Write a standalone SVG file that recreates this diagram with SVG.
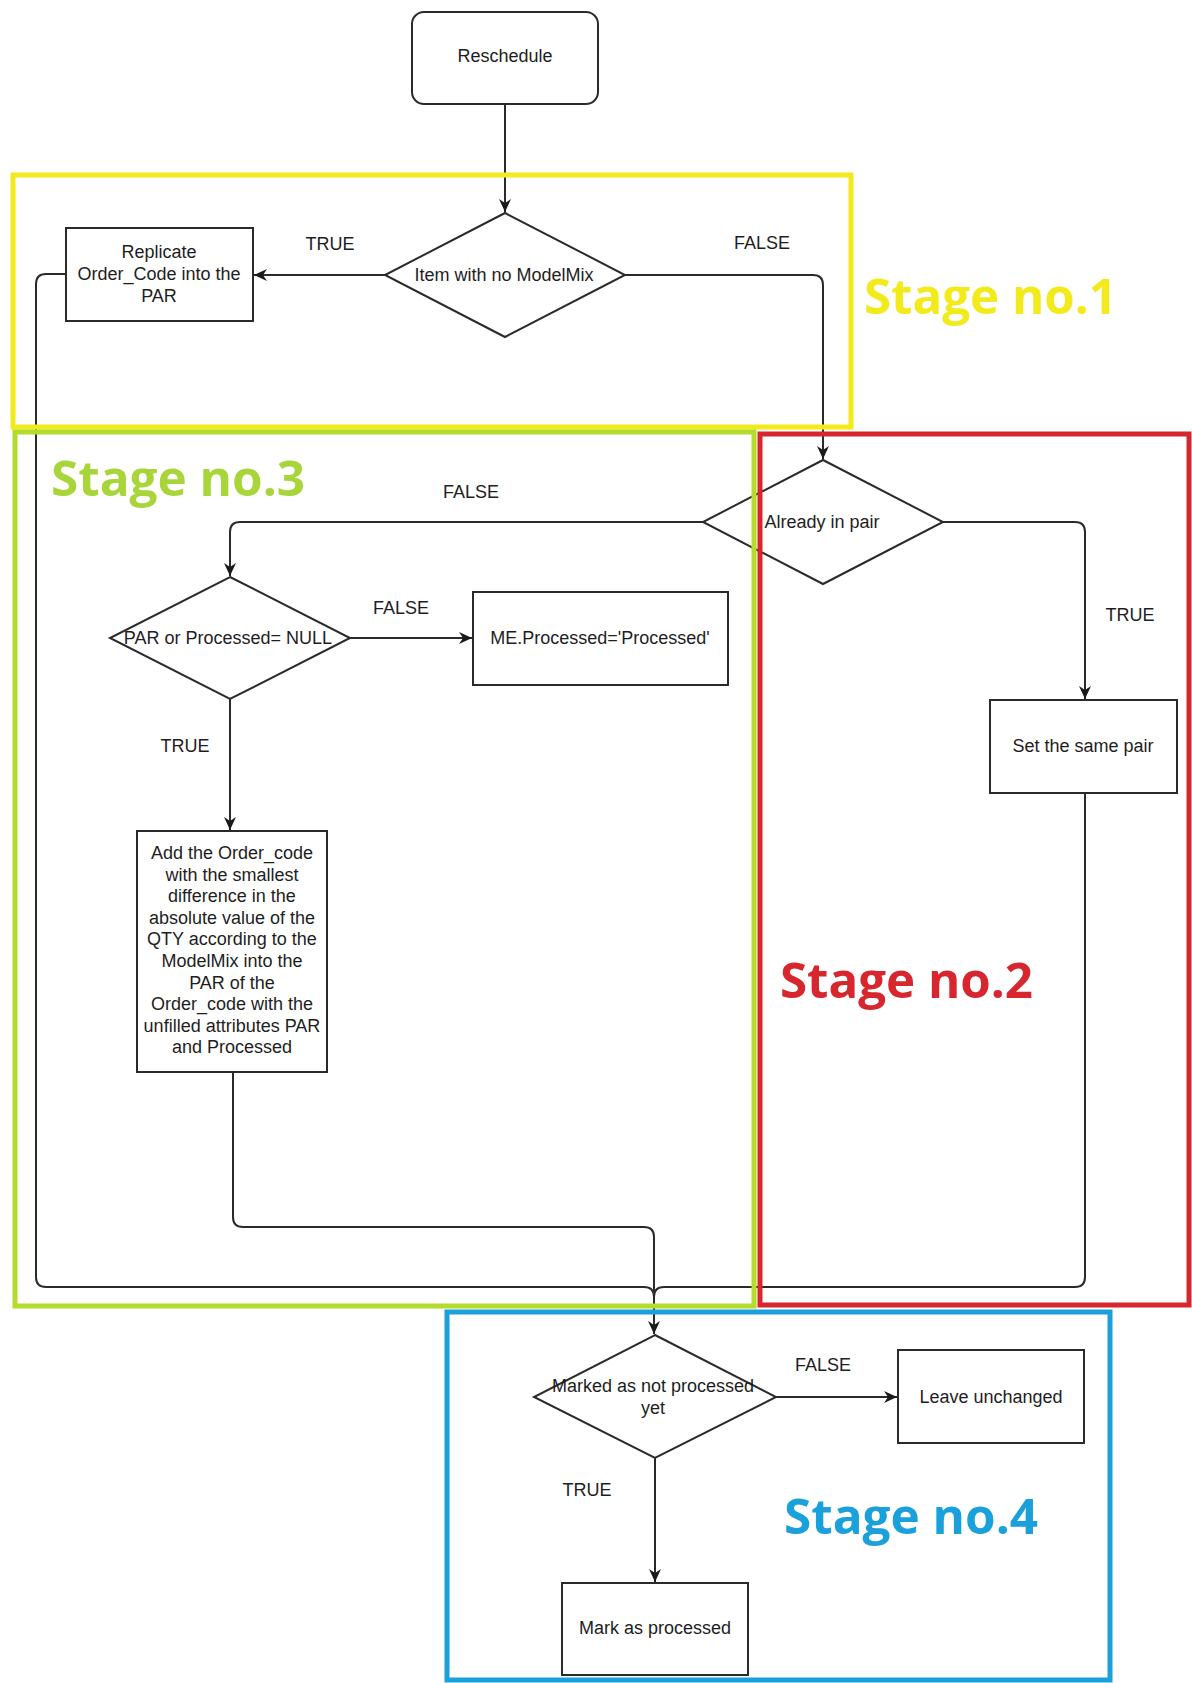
<svg xmlns="http://www.w3.org/2000/svg" width="1192" height="1683" viewBox="0 0 1192 1683">
  <defs>
    <marker id="arrow" markerUnits="userSpaceOnUse" markerWidth="14" markerHeight="12" viewBox="0 0 14 12" refX="13" refY="6" orient="auto">
      <path d="M0,0 L13,6 L0,12 L4,6 Z" fill="#1a1a1a"/>
    </marker>
    <style>
      .shape { fill: #ffffff; stroke: #2a2a2a; stroke-width: 2; }
      .edge { fill: none; stroke: #2a2a2a; stroke-width: 2; }
      .txt { font-family: "Liberation Sans", Arial, sans-serif; font-size: 18px; fill: #1e1e1e; text-anchor: middle; dominant-baseline: central; }
      .stage { font-family: "Open Sans", "Lato", sans-serif; font-weight: 700; font-size: 48px; }
      .frame { fill: none; stroke-width: 5; }
    </style>
  </defs>

  <rect width="1192" height="1683" fill="#ffffff"/>

  <!-- connectors -->
  <g id="connectors">
    <path class="edge" d="M505,104 V212" marker-end="url(#arrow)"/>
    <path class="edge" d="M385,275 H254" marker-end="url(#arrow)"/>
    <path class="edge" d="M625,275 H813 Q823,275 823,285 V459" marker-end="url(#arrow)"/>
    <path class="edge" d="M943,522 H1075 Q1085,522 1085,532 V699" marker-end="url(#arrow)"/>
    <path class="edge" d="M703,522 H240 Q230,522 230,532 V576" marker-end="url(#arrow)"/>
    <path class="edge" d="M350,638 H472" marker-end="url(#arrow)"/>
    <path class="edge" d="M230,699 V830" marker-end="url(#arrow)"/>
    <path class="edge" d="M66,274 H46 Q36,274 36,284 V1277 Q36,1287 46,1287 H644 Q654,1287 654,1297"/>
    <path class="edge" d="M1085,793 V1277 Q1085,1287 1075,1287 H664 Q654,1287 654,1297"/>
    <path class="edge" d="M233,1072 V1217 Q233,1227 243,1227 H644 Q654,1227 654,1237 V1334" marker-end="url(#arrow)"/>
    <path class="edge" d="M776,1397 H897" marker-end="url(#arrow)"/>
    <path class="edge" d="M655,1458 V1582" marker-end="url(#arrow)"/>

    <text class="txt" x="330" y="244">TRUE</text>
    <text class="txt" x="762" y="243">FALSE</text>
    <text class="txt" x="471" y="492">FALSE</text>
    <text class="txt" x="1130" y="615">TRUE</text>
    <text class="txt" x="401" y="608">FALSE</text>
    <text class="txt" x="185" y="746">TRUE</text>
    <text class="txt" x="823" y="1365">FALSE</text>
    <text class="txt" x="587" y="1490">TRUE</text>
  </g>

  <!-- nodes -->
  <g id="reschedule">
    <rect class="shape" x="412" y="12" width="186" height="92" rx="12"/>
    <text class="txt" x="505" y="56">Reschedule</text>
  </g>

  <g id="item-no-modelmix">
    <polygon class="shape" points="505,213 625,275 505,337 385,275"/>
    <text class="txt" x="504" y="275">Item with no ModelMix</text>
  </g>

  <g id="replicate">
    <rect class="shape" x="66" y="228" width="187" height="93"/>
    <text class="txt" x="159" y="252">Replicate</text>
    <text class="txt" x="159" y="274">Order_Code into the</text>
    <text class="txt" x="159" y="296">PAR</text>
  </g>

  <g id="already-in-pair">
    <polygon class="shape" points="823,460 943,522 823,584 703,522"/>
    <text class="txt" x="822" y="522">Already in pair</text>
  </g>

  <g id="set-same-pair">
    <rect class="shape" x="990" y="700" width="187" height="93"/>
    <text class="txt" x="1083" y="746">Set the same pair</text>
  </g>

  <g id="par-or-processed">
    <polygon class="shape" points="230,577 350,638 230,699 110,638"/>
    <text class="txt" x="228" y="638">PAR or Processed= NULL</text>
  </g>

  <g id="me-processed">
    <rect class="shape" x="473" y="592" width="255" height="93"/>
    <text class="txt" x="600" y="638">ME.Processed='Processed'</text>
  </g>

  <g id="add-order-code">
    <rect class="shape" x="137" y="831" width="190" height="241"/>
    <text class="txt" x="232" y="853">Add the Order_code</text>
    <text class="txt" x="232" y="874.6">with the smallest</text>
    <text class="txt" x="232" y="896.2">difference in the</text>
    <text class="txt" x="232" y="917.8">absolute value of the</text>
    <text class="txt" x="232" y="939.4">QTY according to the</text>
    <text class="txt" x="232" y="961">ModelMix into the</text>
    <text class="txt" x="232" y="982.6">PAR of the</text>
    <text class="txt" x="232" y="1004.2">Order_code with the</text>
    <text class="txt" x="232" y="1025.8">unfilled attributes PAR</text>
    <text class="txt" x="232" y="1047.4">and Processed</text>
  </g>

  <g id="marked-not-processed">
    <polygon class="shape" points="655,1335 776,1397 655,1458 534,1397"/>
    <text class="txt" x="653" y="1386">Marked as not processed</text>
    <text class="txt" x="653" y="1408">yet</text>
  </g>

  <g id="leave-unchanged">
    <rect class="shape" x="898" y="1350" width="186" height="93"/>
    <text class="txt" x="991" y="1397">Leave unchanged</text>
  </g>

  <g id="mark-processed">
    <rect class="shape" x="562" y="1583" width="186" height="92"/>
    <text class="txt" x="655" y="1628">Mark as processed</text>
  </g>

  <!-- stage frames and titles -->
  <g id="stage-1">
    <rect class="frame" x="13" y="175" width="838" height="252" stroke="#f3ea1c"/>
    <text class="stage" x="864" y="314" fill="#f3ea1c" textLength="253" lengthAdjust="spacingAndGlyphs">Stage no.1</text>
  </g>
  <g id="stage-3">
    <rect class="frame" x="15" y="432" width="739" height="874" stroke="#b3dc2c"/>
    <text class="stage" x="51" y="496" fill="#a8d63a" textLength="254" lengthAdjust="spacingAndGlyphs">Stage no.3</text>
  </g>
  <g id="stage-2">
    <rect class="frame" x="760" y="434" width="429" height="871" stroke="#d8262e"/>
    <text class="stage" x="780" y="998" fill="#d8262e" textLength="253" lengthAdjust="spacingAndGlyphs">Stage no.2</text>
  </g>
  <g id="stage-4">
    <rect class="frame" x="447" y="1312" width="663" height="368" stroke="#1aa0da"/>
    <text class="stage" x="784" y="1534" fill="#1aa0da" textLength="254" lengthAdjust="spacingAndGlyphs">Stage no.4</text>
  </g>
</svg>
